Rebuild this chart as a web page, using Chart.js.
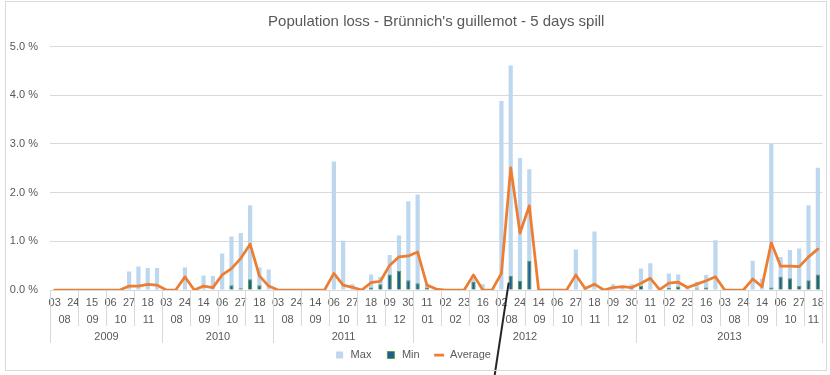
<!DOCTYPE html>
<html>
<head>
<meta charset="utf-8">
<title>Population loss</title>
<script src="https://cdn.jsdelivr.net/npm/chart.js@4.4.0/dist/chart.umd.min.js"></script>
<style>
  html, body { margin: 0; padding: 0; background: #fff; }
  #wrap { position: relative; width: 830px; height: 375px; }
  #frame { position: absolute; left: 5px; top: 1px; width: 820px; height: 368px; border: 1px solid #d9d9d9; pointer-events: none; }
  canvas { position: absolute; left: 0; top: 0; }
</style>
</head>
<body>
<div id="wrap">
  <canvas id="lossChart" width="830" height="375"></canvas>
  <div id="frame"></div>
</div>
<script>
// Sampling dates (one per simulated spill start)
const dates = [
  '2009-08-03', '2009-08-13', '2009-08-24', '2009-09-04', '2009-09-15', '2009-09-25',
  '2009-10-06', '2009-10-16', '2009-10-27', '2009-11-07', '2009-11-18', '2009-11-28',
  '2010-08-03', '2010-08-13', '2010-08-24', '2010-09-03', '2010-09-14', '2010-09-24',
  '2010-10-06', '2010-10-16', '2010-10-27', '2010-11-07', '2010-11-18', '2010-11-28',
  '2011-08-03', '2011-08-13', '2011-08-24', '2011-09-03', '2011-09-14', '2011-09-24',
  '2011-10-06', '2011-10-16', '2011-10-27', '2011-11-07', '2011-11-18', '2011-11-28',
  '2011-12-09', '2011-12-19', '2011-12-30',
  '2012-01-01', '2012-01-11', '2012-01-21', '2012-02-02', '2012-02-12', '2012-02-23',
  '2012-03-05', '2012-03-16', '2012-03-26', '2012-08-02', '2012-08-13', '2012-08-24',
  '2012-09-03', '2012-09-14', '2012-09-24', '2012-10-06', '2012-10-16', '2012-10-27',
  '2012-11-07', '2012-11-18', '2012-11-28', '2012-12-09', '2012-12-19', '2012-12-30',
  '2013-01-01', '2013-01-11', '2013-01-21', '2013-02-02', '2013-02-12', '2013-02-23',
  '2013-03-05', '2013-03-16', '2013-03-26', '2013-08-03', '2013-08-13', '2013-08-24',
  '2013-09-03', '2013-09-14', '2013-09-24', '2013-10-06', '2013-10-16', '2013-10-27',
  '2013-11-07', '2013-11-18'
];

// Population loss in percent
const maxLoss = [
  0, 0, 0, 0, 0, 0, 0, 0, 0.38, 0.48, 0.45, 0.45,
  0, 0, 0.46, 0, 0.30, 0.29, 0.75, 1.10, 1.17, 1.74, 0.46, 0.42,
  0, 0, 0, 0, 0, 0, 2.64, 1.01, 0.12, 0, 0.32, 0.27, 0.72, 1.12, 1.82,
  1.96, 0.12, 0.04, 0, 0, 0, 0.30, 0.12, 0, 3.88, 4.61, 2.71,
  2.48, 0, 0, 0, 0, 0.83, 0.04, 1.20, 0, 0.12, 0.08, 0.12,
  0.44, 0.55, 0.02, 0.34, 0.32, 0.08, 0.17, 0.31, 1.02, 0, 0, 0,
  0.60, 0.23, 3.00, 0.68, 0.82, 0.85, 1.74, 2.51
];
const minLoss = [
  0, 0, 0, 0, 0, 0, 0, 0, 0, 0, 0, 0,
  0, 0, 0, 0, 0, 0, 0, 0.10, 0.035, 0.22, 0.10, 0,
  0, 0, 0, 0, 0, 0, 0, 0, 0, 0, 0.05, 0.12, 0.32, 0.39, 0.20,
  0.14, 0.05, 0, 0, 0, 0, 0.17, 0, 0, 0, 0.29, 0.19,
  0.60, 0, 0, 0, 0, 0.01, 0, 0, 0, 0, 0, 0.03,
  0.08, 0, 0, 0.04, 0.07, 0, 0.03, 0.05, 0, 0, 0, 0,
  0, 0.01, 0.05, 0.27, 0.24, 0.08, 0.20, 0.32
];
const averageLoss = [
  0, 0, 0, 0, 0, 0, 0, 0, 0.08, 0.08, 0.115, 0.10,
  0, 0, 0.27, 0, 0.08, 0.05, 0.31, 0.44, 0.65, 0.94, 0.29, 0.08,
  0, 0, 0, 0, 0, 0, 0.34, 0.10, 0.055, 0, 0.15, 0.18, 0.51, 0.68, 0.70,
  0.78, 0.10, 0.02, 0, 0, 0, 0.31, 0, 0, 0.34, 2.51, 1.17,
  1.73, 0, 0, 0, 0, 0.31, 0.03, 0.12, 0, 0.05, 0.07, 0.05,
  0.14, 0.24, 0.01, 0.14, 0.16, 0.05, 0.12, 0.19, 0.27, 0, 0, 0,
  0.225, 0.07, 0.97, 0.49, 0.49, 0.48, 0.68, 0.84
];

const yTicks = [0, 1, 2, 3, 4, 5];

const days = dates.map(d => d.slice(8, 10));
const months = dates.map(d => d.slice(5, 7));
const years = dates.map(d => d.slice(0, 4));

const FONT = '"Liberation Sans", Arial, sans-serif';
const TEXT = '#595959';
const RULE = '#d9d9d9';

// Month and year rows under the day labels, with group dividers
const groupAxis = {
  id: 'groupAxis',
  afterDraw(chart) {
    const x = chart.scales.x;
    const ctx = chart.ctx;
    const base = chart.chartArea.bottom;
    const step = x.getPixelForValue(1) - x.getPixelForValue(0);
    const edge = i => Math.round(x.getPixelForValue(i) - step / 2) + 0.5;

    ctx.save();
    ctx.font = '11px ' + FONT;
    ctx.fillStyle = TEXT;
    ctx.textAlign = 'center';
    ctx.textBaseline = 'middle';
    ctx.strokeStyle = RULE;
    ctx.lineWidth = 1;

    const row = (keyOf, text, y, depth) => {
      let start = 0;
      for (let i = 1; i <= dates.length; i++) {
        if (i === dates.length || keyOf(i) !== keyOf(start)) {
          const l = edge(start), r = edge(i);
          ctx.fillText(text[start], (l + r) / 2, y);
          ctx.beginPath();
          ctx.moveTo(l, base);
          ctx.lineTo(l, base + depth);
          ctx.moveTo(r, base);
          ctx.lineTo(r, base + depth);
          ctx.stroke();
          start = i;
        }
      }
    };
    row(i => years[i] + months[i], months, base + 30, 36);
    row(i => years[i], years, base + 47, 53);

    // pointer line running down from the August 2012 peak
    const y = chart.scales.y;
    const px = x.getPixelForValue(49) - 2;
    const py = y.getPixelForValue(0.15);
    ctx.strokeStyle = '#262626';
    ctx.lineWidth = 2;
    ctx.beginPath();
    ctx.moveTo(px, py);
    ctx.lineTo(px - 14, chart.height);
    ctx.stroke();
    ctx.restore();
  }
};

new Chart(document.getElementById('lossChart'), {
  plugins: [groupAxis],
  data: {
    labels: dates,
    datasets: [
      {
        type: 'bar',
        label: 'Max',
        data: maxLoss,
        backgroundColor: '#bdd7ee',
        borderWidth: 0,
        grouped: false,
        barPercentage: 0.45,
        categoryPercentage: 1,
        pointStyle: 'rect',
        order: 2
      },
      {
        type: 'bar',
        label: 'Min',
        data: minLoss,
        backgroundColor: '#1f5f8c',
        borderColor: '#5f9d55',
        borderWidth: 1,
        grouped: false,
        barPercentage: 0.45,
        categoryPercentage: 1,
        pointStyle: 'rect',
        order: 1
      },
      {
        type: 'line',
        label: 'Average',
        data: averageLoss,
        borderColor: '#ed7d31',
        backgroundColor: '#ed7d31',
        borderWidth: 2.75,
        borderJoinStyle: 'round',
        borderCapStyle: 'round',
        pointRadius: 0,
        pointStyle: 'line',
        tension: 0,
        order: 0
      }
    ]
  },
  options: {
    responsive: false,
    animation: false,
    layout: { padding: { left: 0, right: 5, top: 0, bottom: 4.5 } },
    plugins: {
      tooltip: { enabled: false },
      title: {
        display: true,
        text: "Population loss - Brünnich's guillemot - 5 days spill",
        color: TEXT,
        fullSize: false,
        font: { family: FONT, size: 15, weight: 'normal' },
        padding: { top: 13, bottom: 15.5 }
      },
      legend: {
        position: 'bottom',
        labels: {
          usePointStyle: true,
          boxHeight: 7,
          color: TEXT,
          font: { family: FONT, size: 11 },
          padding: 14,
          sort: (a, b) => a.datasetIndex - b.datasetIndex
        }
      }
    },
    scales: {
      x: {
        type: 'category',
        grid: { display: false, drawTicks: false },
        border: { display: false },
        ticks: {
          autoSkip: false,
          maxRotation: 0,
          padding: 6,
          color: TEXT,
          font: { family: FONT, size: 11 },
          callback: (value, index) => (index % 2 === 0 ? days[index] : '')
        },
        afterFit: scale => { scale.height = 45.5; }
      },
      y: {
        min: yTicks[0],
        max: yTicks[yTicks.length - 1],
        afterBuildTicks: scale => { scale.ticks = yTicks.map(v => ({ value: v })); },
        grid: { color: RULE, drawTicks: false },
        border: { display: false },
        ticks: {
          padding: 12,
          color: TEXT,
          font: { family: FONT, size: 11 },
          callback: v => v.toFixed(1) + ' %'
        },
        afterFit: scale => { scale.width = 50; }
      }
    }
  }
});
</script>
</body>
</html>
